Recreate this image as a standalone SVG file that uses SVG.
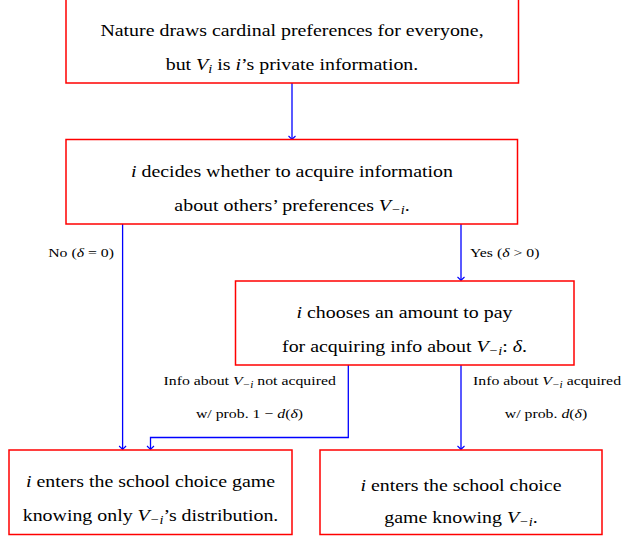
<svg xmlns="http://www.w3.org/2000/svg" width="626" height="539" viewBox="0 0 626 539">
<style>
.box{fill:#fff;stroke:#ff0000;stroke-width:1.5}
.t{font-family:"Liberation Serif","Times New Roman",serif;font-size:17px;fill:#000;text-anchor:middle}
.l{font-family:"Liberation Serif","Times New Roman",serif;font-size:13.5px;fill:#000}
.m{font-style:italic}
.s{font-size:0.72em;font-style:italic}
.c{fill:none;stroke:#0000ff;stroke-width:1.3}
</style>
<defs>
<marker id="ah" markerUnits="userSpaceOnUse" markerWidth="10" markerHeight="10" refX="0" refY="0" viewBox="-5 -5 10 10" orient="auto">
<path d="M-3.5,-3.5 Q-1,-0.8 0,0 Q-1,0.8 -3.5,3.5" fill="none" stroke="#0000ff" stroke-width="1.1"/>
</marker>
</defs>
<g id="connectors">
<path class="c" d="M292,83 V139.5" marker-end="url(#ah)"/>
<path class="c" d="M122.6,224 V449.5" marker-end="url(#ah)"/>
<path class="c" d="M461,224 V280.5" marker-end="url(#ah)"/>
<path class="c" d="M348.3,365 V437.5 H150.5 V449.5" marker-end="url(#ah)"/>
<path class="c" d="M461,365 V449.5" marker-end="url(#ah)"/>
<text class="l" transform="translate(114 257) scale(1.17 1)" text-anchor="end">No (<tspan class="m">δ</tspan> = 0)</text>
<text class="l" transform="translate(470 257) scale(1.17 1)">Yes (<tspan class="m">δ</tspan> &gt; 0)</text>
<text class="l" transform="translate(249.7 385) scale(1.17 1)" text-anchor="middle">Info about <tspan class="m">V</tspan><tspan class="s" dy="2.5">−i</tspan><tspan dy="-2.5"> not acquired</tspan></text>
<text class="l" transform="translate(249.5 418) scale(1.17 1)" text-anchor="middle">w/ prob. 1 − <tspan class="m">d</tspan>(<tspan class="m">δ</tspan>)</text>
<text class="l" transform="translate(547 385) scale(1.17 1)" text-anchor="middle">Info about <tspan class="m">V</tspan><tspan class="s" dy="2.5">−i</tspan><tspan dy="-2.5"> acquired</tspan></text>
<text class="l" transform="translate(546 418) scale(1.17 1)" text-anchor="middle">w/ prob. <tspan class="m">d</tspan>(<tspan class="m">δ</tspan>)</text>
</g>
<g id="n1">
<rect class="box" x="66" y="-1.5" width="452.5" height="84.5"/>
<text class="t" transform="translate(292 36) scale(1.17 1)">Nature draws cardinal preferences for everyone,</text>
<text class="t" transform="translate(292 70) scale(1.17 1)">but <tspan class="m">V</tspan><tspan class="s" dy="3">i</tspan><tspan dy="-3"> is </tspan><tspan class="m">i</tspan>’s private information.</text>
</g>
<g id="n2">
<rect class="box" x="66" y="139.5" width="451.5" height="84.5"/>
<text class="t" transform="translate(292 176.5) scale(1.17 1)"><tspan class="m">i</tspan> decides whether to acquire information</text>
<text class="t" transform="translate(292 211) scale(1.17 1)">about others’ preferences <tspan class="m">V</tspan><tspan class="s" dy="3">−i</tspan><tspan dy="-3">.</tspan></text>
</g>
<g id="n3">
<rect class="box" x="235.5" y="281" width="338.5" height="84"/>
<text class="t" transform="translate(404.5 317.5) scale(1.17 1)"><tspan class="m">i</tspan> chooses an amount to pay</text>
<text class="t" transform="translate(404.5 351.5) scale(1.17 1)">for acquiring info about <tspan class="m">V</tspan><tspan class="s" dy="3">−i</tspan><tspan dy="-3">: </tspan><tspan class="m">δ</tspan>.</text>
</g>
<g id="n4">
<rect class="box" x="9" y="450" width="283" height="84.5"/>
<text class="t" transform="translate(150.5 487) scale(1.17 1)"><tspan class="m">i</tspan> enters the school choice game</text>
<text class="t" transform="translate(150.5 521) scale(1.17 1)">knowing only <tspan class="m">V</tspan><tspan class="s" dy="3">−i</tspan><tspan dy="-3">’s distribution.</tspan></text>
</g>
<g id="n5">
<rect class="box" x="320" y="450" width="282" height="84.5"/>
<text class="t" transform="translate(461 490.5) scale(1.17 1)"><tspan class="m">i</tspan> enters the school choice</text>
<text class="t" transform="translate(461 523) scale(1.17 1)">game knowing <tspan class="m">V</tspan><tspan class="s" dy="3">−i</tspan><tspan dy="-3">.</tspan></text>
</g>
</svg>
